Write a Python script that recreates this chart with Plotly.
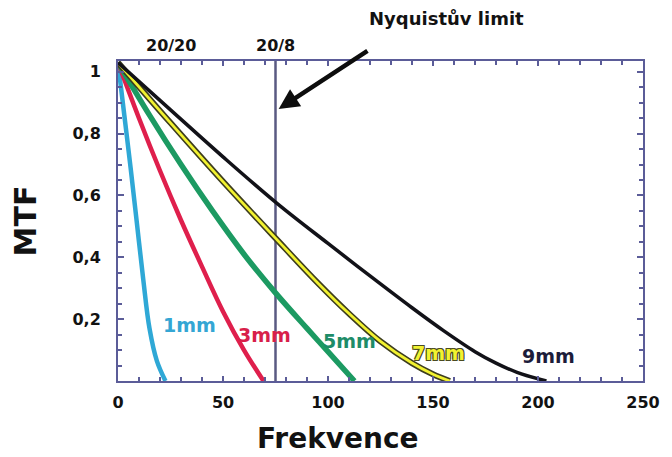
import plotly.graph_objects as go

# MTF curves for several pupil diameters (spatial frequency in cycles/degree)
freq_1mm = [0, 3.0, 6.0, 9.0, 12.0, 15.0, 18.5, 22.6]
mtf_1mm = [1.03, 0.86, 0.69, 0.51, 0.33, 0.17, 0.065, 0.0]

freq_3mm = [0, 10.0, 20.0, 30.0, 40.0, 50.0, 60.0, 69.3]
mtf_3mm = [1.03, 0.85, 0.68, 0.52, 0.37, 0.225, 0.10, 0.0]

freq_5mm = [0, 15.0, 30.0, 45.0, 60.0, 75.0, 90.0, 100.0, 112.6]
mtf_5mm = [1.03, 0.86, 0.70, 0.55, 0.41, 0.285, 0.17, 0.095, 0.0]

freq_7mm = [0, 25.0, 50.0, 75.0, 95.0, 110.0, 125.0, 140.0, 150.0, 158.0]
mtf_7mm = [1.03, 0.835, 0.645, 0.462, 0.318, 0.218, 0.128, 0.058, 0.022, 0.0]

freq_9mm = [0, 25.0, 50.0, 76.0, 100.0, 120.0, 140.0, 155.0, 170.0, 180.0, 190.0, 204.0]
mtf_9mm = [1.03, 0.877, 0.725, 0.573, 0.445, 0.34, 0.237, 0.163, 0.095, 0.058, 0.028, 0.0]

nyquist_freq = 75
acuity_ticks = [25, 75]
acuity_labels = ["20/20", "20/8"]

y_tickvals = [0.2, 0.4, 0.6, 0.8, 1.0]
y_ticktext = ["0,2", "0,4", "0,6", "0,8", "1"]

curve_names = ["1mm", "3mm", "5mm", "7mm", "9mm"]
curve_label_pos = [(34.0, 0.18), (69.8, 0.15), (110.4, 0.128), (152.4, 0.09), (205.0, 0.08)]

AXIS_COLOR = "#5b5c98"
FONT = "DejaVu Sans"
TEXT = "#121212"

fig = go.Figure()

# Nyquist limit marker
fig.add_trace(go.Scatter(
    x=[nyquist_freq, nyquist_freq], y=[0, 1.035], mode="lines",
    line=dict(color="#5a5a82", width=2.5), hoverinfo="skip", showlegend=False))

spl = dict(shape="spline", smoothing=1.0)
fig.add_trace(go.Scatter(x=freq_1mm, y=mtf_1mm, mode="lines",
                         line=dict(color="#2fa8d6", width=4.5, **spl), showlegend=False))
fig.add_trace(go.Scatter(x=freq_3mm, y=mtf_3mm, mode="lines",
                         line=dict(color="#df1f4c", width=4.5, **spl), showlegend=False))
fig.add_trace(go.Scatter(x=freq_5mm, y=mtf_5mm, mode="lines",
                         line=dict(color="#1c9a62", width=5.5, **spl), showlegend=False))
# yellow curve with a dark edge
fig.add_trace(go.Scatter(x=freq_7mm, y=mtf_7mm, mode="lines",
                         line=dict(color="#3d3d1e", width=6, **spl), showlegend=False))
fig.add_trace(go.Scatter(x=freq_7mm, y=mtf_7mm, mode="lines",
                         line=dict(color="#f2f230", width=2.8, **spl), showlegend=False))
fig.add_trace(go.Scatter(x=freq_9mm, y=mtf_9mm, mode="lines",
                         line=dict(color="#121218", width=3.5, **spl), showlegend=False))

label_colors = ["#34a6d4", "#d81f4a", "#1e8c68", "#f2f230", "#1c1c3a"]
outline = "1px 1px 0 #4a4a20, -1px -1px 0 #4a4a20, 1px -1px 0 #4a4a20, -1px 1px 0 #4a4a20"
label_shadows = ["none", "none", "none", outline, "none"]
annotations = []
for name, (lx, ly), col, sh in zip(curve_names, curve_label_pos, label_colors, label_shadows):
    annotations.append(dict(
        x=lx, y=ly, xref="x", yref="y", text=name, showarrow=False,
        font=dict(family=FONT, size=19, color=col, weight="bold", shadow=sh)))

# visual acuity labels above the plot
for tv, tt in zip(acuity_ticks, acuity_labels):
    annotations.append(dict(
        x=tv, y=1.035, xref="x", yref="y", yanchor="bottom", yshift=4, text=tt,
        showarrow=False, font=dict(family=FONT, size=16, color=TEXT, weight="bold")))

annotations.append(dict(
    x=(450 - 118) / 530, y=(381 - 19) / 320, xref="paper", yref="paper",
    yanchor="middle", text="Nyquistův limit", showarrow=False,
    font=dict(family=FONT, size=18, color=TEXT, weight="bold")))

# x axis title, placed slightly left of the plot centre
annotations.append(dict(
    x=(340 - 118) / 530, y=(381 - 438) / 320, xref="paper", yref="paper",
    yanchor="middle", text="Frekvence", showarrow=False,
    font=dict(family=FONT, size=28, color=TEXT, weight="bold")))

# arrow pointing at the Nyquist line
annotations.append(dict(
    x=76.5, y=0.88, ax=119.5, ay=1.071, xref="x", yref="y", axref="x", ayref="y",
    text="", showarrow=True, arrowhead=2, arrowsize=0.9, arrowwidth=4.5,
    arrowcolor="#0d0d0d", standoff=0))

fig.update_layout(
    width=672, height=457,
    margin=dict(l=118, r=24, t=61, b=76),
    paper_bgcolor="white", plot_bgcolor="white",
    separators=",.",
    annotations=annotations,
    xaxis=dict(
        range=[0, 250], tickvals=[0, 50, 100, 150, 200, 250],
        showline=True, linecolor=AXIS_COLOR, linewidth=2, mirror="allticks",
        ticks="inside", ticklen=5, tickwidth=2, tickcolor=AXIS_COLOR,
        minor=dict(dtick=10, ticks="inside", ticklen=4, tickwidth=2, tickcolor=AXIS_COLOR),
        showgrid=False, zeroline=False,
        tickfont=dict(family=FONT, size=16, color=TEXT, weight="bold"),
        ticklabelstandoff=6,
    ),
    yaxis=dict(
        range=[0, 1.035], tickvals=y_tickvals, ticktext=y_ticktext,
        showline=True, linecolor=AXIS_COLOR, linewidth=2, mirror="allticks",
        ticks="inside", ticklen=6, tickwidth=2, tickcolor=AXIS_COLOR,
        minor=dict(tickvals=[0.05 * i for i in range(1, 21)], ticks="inside",
                   ticklen=4, tickwidth=2, tickcolor=AXIS_COLOR),
        showgrid=False, zeroline=False,
        tickfont=dict(family=FONT, size=16, color=TEXT, weight="bold"),
        ticklabelstandoff=12,
        title=dict(text="MTF", standoff=27,
                   font=dict(family=FONT, size=30, color=TEXT, weight="bold")),
    ),
)

fig.write_html("out.html")
